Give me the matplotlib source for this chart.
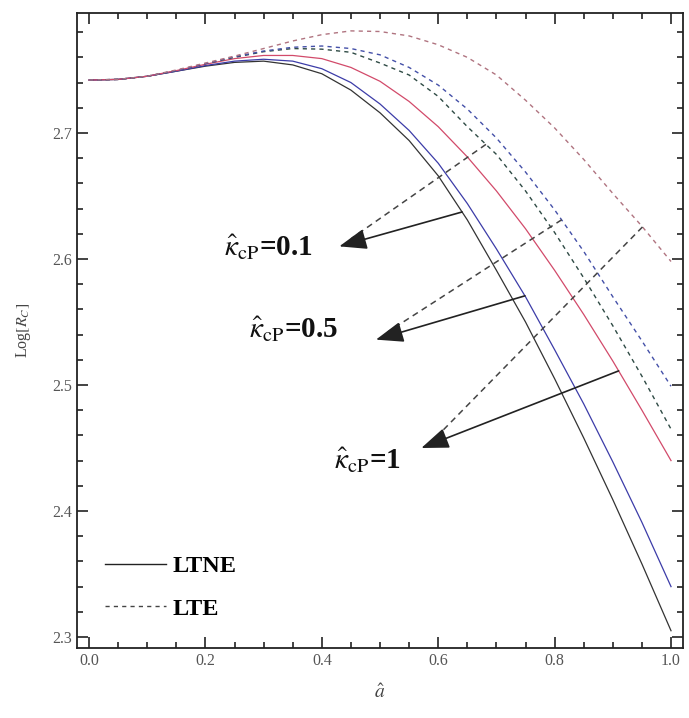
import numpy as np
import matplotlib
matplotlib.use("Agg")
import matplotlib.pyplot as plt

plt.rcParams['font.family'] = ['Liberation Serif', 'DejaVu Serif']
plt.rcParams['mathtext.fontset'] = 'stix'

# a-hat values where the curves were read
a_hat = [0.0, 0.05, 0.1, 0.15, 0.2, 0.25, 0.3, 0.35, 0.4, 0.45, 0.5,
         0.55, 0.6, 0.65, 0.7, 0.75, 0.8, 0.85, 0.9, 0.95, 1.0]

# LTNE (solid)
ltne_01 = [2.742, 2.7425, 2.745, 2.749, 2.753, 2.756, 2.757, 2.754, 2.747, 2.734, 2.716,
           2.694, 2.666, 2.631, 2.591, 2.550, 2.505, 2.458, 2.409, 2.358, 2.305]
ltne_05 = [2.742, 2.7425, 2.745, 2.749, 2.7535, 2.757, 2.7585, 2.757, 2.751, 2.740, 2.723,
           2.702, 2.676, 2.644, 2.608, 2.570, 2.528, 2.485, 2.439, 2.391, 2.340]
ltne_1 = [2.742, 2.7425, 2.745, 2.7495, 2.7545, 2.759, 2.7615, 2.7615, 2.759, 2.752, 2.741,
          2.725, 2.705, 2.681, 2.654, 2.624, 2.591, 2.556, 2.519, 2.480, 2.440]

# LTE (dashed)
lte_01 = [2.742, 2.7425, 2.745, 2.7495, 2.755, 2.760, 2.7645, 2.767, 2.7665, 2.764, 2.7555,
          2.746, 2.729, 2.705, 2.683, 2.654, 2.621, 2.585, 2.547, 2.507, 2.465]
lte_05 = [2.742, 2.7425, 2.745, 2.7495, 2.755, 2.7605, 2.765, 2.768, 2.769, 2.767, 2.762,
          2.752, 2.738, 2.719, 2.696, 2.669, 2.639, 2.606, 2.570, 2.535, 2.499]
lte_1 = [2.742, 2.7425, 2.745, 2.750, 2.7555, 2.761, 2.767, 2.773, 2.778, 2.781, 2.7805,
         2.777, 2.770, 2.760, 2.746, 2.726, 2.704, 2.679, 2.652, 2.626, 2.598]

kappa_labels = ["0.1", "0.5", "1"]

fig = plt.figure(figsize=(6.89, 7.18), dpi=100)
ax = fig.add_axes([0.1118, 0.0975, 0.8795, 0.8844])

ax.plot(a_hat, ltne_01, color='#333333', lw=0.9)
ax.plot(a_hat, ltne_05, color='#3c3ca8', lw=0.9)
ax.plot(a_hat, ltne_1, color='#d24a6a', lw=0.9)
ax.plot(a_hat, lte_01, color='#2e4a44', lw=1.0, ls=(0, (3, 3)))
ax.plot(a_hat, lte_05, color='#4450a8', lw=1.0, ls=(0, (3, 3)))
ax.plot(a_hat, lte_1, color='#b07480', lw=1.0, ls=(0, (3, 3)))

# annotations: (solid start x, solid curve, dashed start x, dashed curve, tip, text pos)
notes = [
    (0.641, ltne_01, 0.682, lte_01, (0.430, 2.610), (0.232, 2.609)),
    (0.749, ltne_05, 0.812, lte_05, (0.493, 2.536), (0.275, 2.544)),
    (0.910, ltne_1, 0.951, lte_1, (0.571, 2.450), (0.421, 2.440)),
]
for lab, (xs, ys_curve, xd, yd_curve, tip, tpos) in zip(kappa_labels, notes):
    ys = np.interp(xs, a_hat, ys_curve)
    yd = np.interp(xd, a_hat, yd_curve)
    ax.plot([xd, tip[0] + 0.02], [yd, tip[1] + 0.006], color='#444444', lw=1.1,
            ls=(0, (4, 3)))
    ax.annotate('', xy=tip, xytext=(xs, ys),
                arrowprops=dict(arrowstyle='-|>,head_length=0.85,head_width=0.32',
                                color='#222222', lw=1.2, shrinkA=0, shrinkB=0,
                                mutation_scale=20))
    ax.text(tpos[0], tpos[1], r'$\hat{\kappa}_{\mathrm{cP}}$=' + lab, fontsize=21,
            fontweight='bold', va='center', ha='left', color='#111111')

# legend
ax.plot([], [], color='#222222', lw=1.0, label='LTNE')
ax.plot([], [], color='#444444', lw=1.0, ls=(0, (3, 3)), label='LTE')
handles, labels = ax.get_legend_handles_labels()
ax.legend(handles[-2:], labels[-2:], loc='lower left', bbox_to_anchor=(0.01, 0.01),
          frameon=False, prop={'weight': 'bold', 'size': 17.5}, handlelength=2.5,
          handletextpad=0.3, labelspacing=0.85)

ax.set_xlim(-0.0206, 1.0206)
ax.set_ylim(2.2913, 2.7952)
ax.set_xticks([0.0, 0.2, 0.4, 0.6, 0.8, 1.0])
ax.set_xticks(np.arange(0, 1.001, 0.05), minor=True)
ax.set_yticks([2.3, 2.4, 2.5, 2.6, 2.7])
ax.set_yticks(np.arange(2.3, 2.79, 0.02), minor=True)
ax.xaxis.set_major_formatter(matplotlib.ticker.FormatStrFormatter('%.1f'))
ax.tick_params(which='both', direction='in', top=True, right=True, colors='#222222',
               labelcolor='#555555', labelsize=11.5, width=1.2)
ax.tick_params(which='major', length=8)
ax.tick_params(which='minor', length=4.5)
for s in ax.spines.values():
    s.set_linewidth(1.3)
    s.set_color('#222222')

ax.set_xlabel(r'$\hat{a}$', fontsize=14, color='#444444', labelpad=10)
ax.set_ylabel(r'Log$[R_C]$', fontsize=11.5, color='#444444', labelpad=14)

fig.savefig('out.png', dpi=100)
